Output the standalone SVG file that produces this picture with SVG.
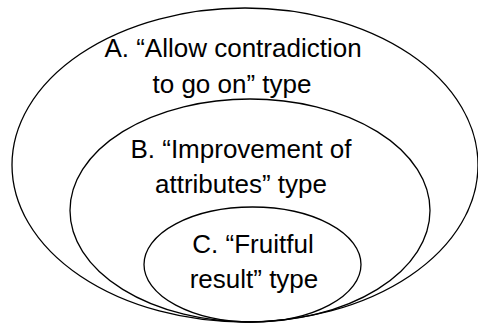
<svg xmlns="http://www.w3.org/2000/svg" width="478" height="325" viewBox="0 0 478 325">
  <style>
    .ring { fill: none; stroke: #000; stroke-width: 1.3; }
    .label { font-family: "Liberation Sans", Arial, sans-serif; font-size: 26px; fill: #000; text-anchor: middle; }
  </style>
  <rect width="478" height="325" fill="#fff"/>
  <g id="type-a">
    <ellipse class="ring" cx="245" cy="165" rx="233" ry="157"/>
    <text class="label" x="233" y="57">A. “Allow contradiction</text>
    <text class="label" x="232" y="93">to go on” type</text>
  </g>
  <g id="type-b">
    <ellipse class="ring" cx="250" cy="210.5" rx="180" ry="111.5"/>
    <text class="label" x="241" y="158">B. “Improvement of</text>
    <text class="label" x="241" y="193">attributes” type</text>
  </g>
  <g id="type-c">
    <ellipse class="ring" cx="252.5" cy="264.5" rx="108.5" ry="57.5"/>
    <text class="label" x="253" y="253">C. “Fruitful</text>
    <text class="label" x="254" y="288">result” type</text>
  </g>
  <g id="connectors"></g>
</svg>
